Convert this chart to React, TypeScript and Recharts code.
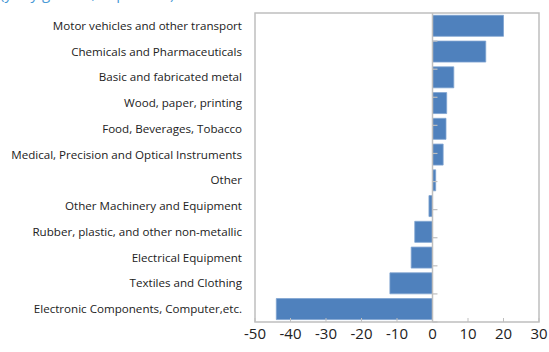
import React from "react";
import { BarChart, Bar, XAxis, YAxis, ReferenceLine, ReferenceArea } from "recharts";

const categories = [
  "Motor vehicles and other transport",
  "Chemicals and Pharmaceuticals",
  "Basic and fabricated metal",
  "Wood, paper, printing",
  "Food, Beverages, Tobacco",
  "Medical, Precision and Optical Instruments",
  "Other",
  "Other Machinery and Equipment",
  "Rubber, plastic, and other non-metallic",
  "Electrical Equipment",
  "Textiles and Clothing",
  "Electronic Components, Computer,etc.",
];
const values = [20, 15, 6, 4, 3.8, 3, 0.9, -1, -5, -6, -12, -44];
const xTicks = [-50, -40, -30, -20, -10, 0, 10, 20, 30];
const boundaries = [1, 2, 3, 4, 5, 6, 7, 8, 9, 10, 11];

const data = categories.map((c, i) => ({ name: c, value: values[i] }));

const XTick = (props: any) => {
  const { x, y, payload } = props;
  return (
    <g>
      <line x1={x} x2={x} y1={y} y2={y - 4} stroke="#BFBFBF" strokeWidth={1} />
      <text x={x} y={y + 17} textAnchor="middle" fontSize={15} fill="#222" fontFamily="Open Sans, sans-serif">
        {payload.value}
      </text>
    </g>
  );
};

const YTick = (props: any) => {
  const { x, y, payload } = props;
  return (
    <text x={x} y={y} dy={4} textAnchor="end" fontSize={11.6} fill="#222" fontFamily="Open Sans, sans-serif">
      {payload.value}
    </text>
  );
};

export default function App() {
  return (
    <div style={{ position: "absolute", left: 0, top: 0, width: 549, height: 352, background: "#fff", overflow: "hidden" }}>
      <div
        style={{
          position: "absolute",
          left: 0,
          top: -17,
          color: "#4A9AD6",
          fontSize: 15,
          lineHeight: "20px",
          fontFamily: "Open Sans, sans-serif",
          whiteSpace: "nowrap",
        }}
      >
        (y-o-y growth, in percent)
      </div>
      <BarChart
        width={549}
        height={352}
        data={data}
        layout="vertical"
        margin={{ top: 13, right: 10, bottom: 0, left: 0 }}
        barCategoryGap="9%"
      >
        <XAxis
          type="number"
          domain={[-50, 30]}
          ticks={xTicks}
          axisLine={false}
          tickLine={false}
          tickSize={0}
          tickMargin={0}
          height={30}
          tick={<XTick />}
          interval={0}
        />
        <YAxis
          type="category"
          dataKey="name"
          width={255}
          axisLine={false}
          tickLine={false}
          tickSize={0}
          tickMargin={13}
          tick={<YTick />}
          interval={0}
        />
        <YAxis yAxisId="num" type="number" domain={[0, 12]} hide />
        <ReferenceArea x1={-50} x2={30} fill="none" stroke="#BFBFBF" strokeWidth={1.5} ifOverflow="extendDomain" />
        <Bar dataKey="value" fill="#4F81BD" stroke="#7FA3D0" strokeWidth={0.8} isAnimationActive={false} />
        <ReferenceLine x={0} stroke="#BFBFBF" strokeWidth={1.5} />
        {boundaries.map((b) => (
          <ReferenceLine
            key={b}
            yAxisId="num"
            segment={[
              { x: 0, y: b },
              { x: 1.4, y: b },
            ]}
            stroke="#BFBFBF"
            strokeWidth={1.2}
          />
        ))}
      </BarChart>
    </div>
  );
}
